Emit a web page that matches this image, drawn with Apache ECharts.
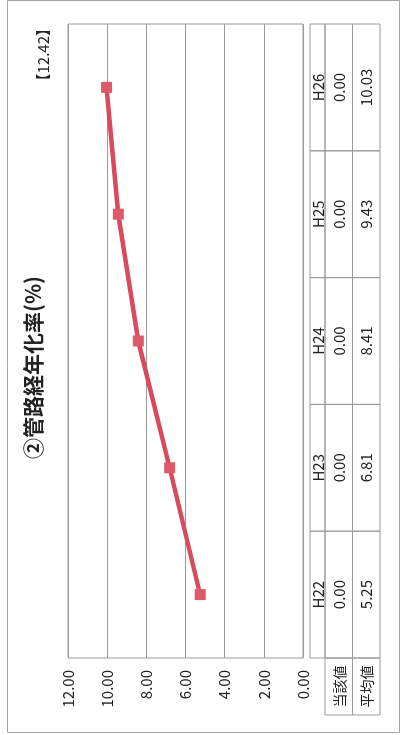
<!DOCTYPE html>
<html>
<head>
<meta charset="utf-8">
<script src="https://cdn.jsdelivr.net/npm/echarts@6/dist/echarts.min.js"></script>
<style>
  html, body { margin: 0; padding: 0; background: #fff; width: 404px; height: 735px; overflow: hidden; }
  /* The sheet is laid out landscape and turned a quarter turn counter-clockwise. */
  #chart {
    position: absolute; left: 0; top: 0;
    width: 735px; height: 404px;
    transform-origin: 0 0;
    transform: translateY(735px) rotate(-90deg);
  }
</style>
</head>
<body>
<div id="chart"></div>
<script>
// Fiscal years (Heisei)
const categories = ['H22', 'H23', 'H24', 'H25', 'H26'];
// This utility's own value per year
const currentValues = [0.00, 0.00, 0.00, 0.00, 0.00];
// Average of comparable utilities per year
const averageValues = [5.25, 6.81, 8.41, 9.43, 10.03];
// Row headers of the data table
const rowHeaders = ['当該値', '平均値'];
// Value axis ticks
const valueTicks = [0, 2, 4, 6, 8, 10, 12];
// Reference value shown in brackets
const referenceValue = 12.42;
const titleText = '②管路経年化率(%)';

const FONT = '"Noto Sans CJK JP", "Noto Sans", sans-serif';
const GRID_COLOR = '#9a9a9a';
const TEXT_COLOR = '#222';
const LINE_COLOR = '#d84a5c';

const chart = echarts.init(document.getElementById('chart'), null, { renderer: 'canvas' });

// Table below the plot: one column per year, rows = year / current / average
function renderTable(params, api) {
  const cs = params.coordSys;
  const i = api.value(0);
  const cx = api.coord([i, 0])[0];
  const w = api.size([1, 0])[0];
  const x0 = cx - w / 2;
  const fr = [0, 15 / 70, 42.5 / 70, 1];
  const rowY = fr.map(f => cs.y + f * cs.height);
  const texts = [categories[i], api.value(1).toFixed(2), api.value(2).toFixed(2)];
  const children = [];
  for (let r = 0; r < 3; r++) {
    children.push({
      type: 'rect',
      shape: { x: x0, y: rowY[r], width: w, height: rowY[r + 1] - rowY[r] },
      style: { fill: 'none', stroke: GRID_COLOR, lineWidth: 1 }
    });
    children.push({
      type: 'text',
      style: {
        text: texts[r], x: cx, y: (rowY[r] + rowY[r + 1]) / 2 + 0.5,
        align: 'center', verticalAlign: 'middle', textAlign: 'center', textVerticalAlign: 'middle',
        fontSize: 15, fontFamily: FONT, fill: TEXT_COLOR
      }
    });
  }
  if (i === 0) {
    const hw = 57;
    for (let r = 1; r < 3; r++) {
      children.push({
        type: 'rect',
        shape: { x: cs.x - hw, y: rowY[r], width: hw, height: rowY[r + 1] - rowY[r] },
        style: { fill: 'none', stroke: GRID_COLOR, lineWidth: 1 }
      });
      children.push({
        type: 'text',
        style: {
          text: rowHeaders[r - 1], x: cs.x - hw / 2, y: (rowY[r] + rowY[r + 1]) / 2 + 0.5,
          align: 'center', verticalAlign: 'middle', textAlign: 'center', textVerticalAlign: 'middle',
          fontSize: 14, fontFamily: FONT, fill: TEXT_COLOR
        }
      });
    }
  }
  return { type: 'group', children };
}

chart.setOption({
  animation: false,
  backgroundColor: '#fff',
  title: {
    text: titleText,
    left: 'center',
    top: 18,
    textStyle: { fontSize: 21, fontWeight: 'bold', fontFamily: FONT, color: TEXT_COLOR }
  },
  graphic: [
    {
      type: 'rect',
      shape: { x: 2.5, y: 7.5, width: 732, height: 392 },
      style: { fill: 'none', stroke: '#a5a5a5', lineWidth: 1 },
      silent: true
    },
    {
      type: 'text',
      right: 21,
      top: 36,
      style: {
        text: '【' + referenceValue.toFixed(2) + '】',
        fontSize: 15, fontFamily: FONT, fill: TEXT_COLOR
      }
    }
  ],
  grid: [
    { left: 77, right: 24, top: 68, height: 235, show: true, borderColor: GRID_COLOR, borderWidth: 1 },
    { left: 77, right: 24, top: 310, height: 70 }
  ],
  xAxis: [
    {
      gridIndex: 0, type: 'category', data: categories, boundaryGap: true,
      axisLine: { show: false }, axisTick: { show: false }, axisLabel: { show: false },
      splitLine: { show: false }
    },
    {
      gridIndex: 1, type: 'category', data: categories, boundaryGap: true, show: false
    }
  ],
  yAxis: [
    {
      gridIndex: 0, type: 'value',
      min: valueTicks[0], max: valueTicks[valueTicks.length - 1],
      interval: valueTicks[1] - valueTicks[0],
      axisLine: { show: false }, axisTick: { show: false },
      axisLabel: {
        formatter: v => v.toFixed(2), margin: 12,
        fontSize: 15, fontFamily: FONT, color: TEXT_COLOR
      },
      splitLine: { show: true, lineStyle: { color: GRID_COLOR, width: 1 } }
    },
    { gridIndex: 1, type: 'value', min: 0, max: 1, show: false }
  ],
  series: [
    {
      name: '平均値',
      type: 'line',
      xAxisIndex: 0, yAxisIndex: 0,
      data: averageValues,
      symbol: 'rect',
      symbolSize: 11,
      lineStyle: { color: LINE_COLOR, width: 4.5 },
      itemStyle: { color: '#de5a6a' },
      z: 5
    },
    {
      name: 'table',
      type: 'custom',
      xAxisIndex: 1, yAxisIndex: 1,
      clip: false,
      silent: true,
      encode: { x: 0, y: 1 },
      data: categories.map((c, i) => [i, currentValues[i], averageValues[i]]),
      renderItem: renderTable
    }
  ]
});
</script>
</body>
</html>
